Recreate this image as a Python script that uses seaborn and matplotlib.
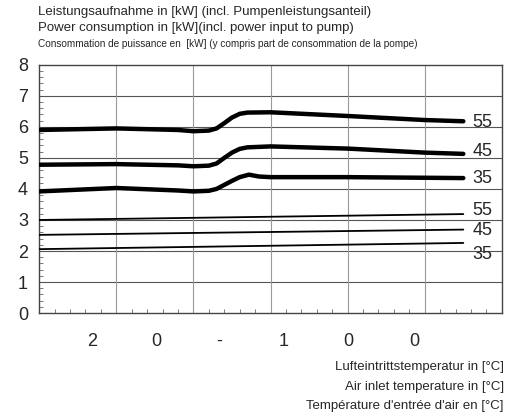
import matplotlib
matplotlib.use("Agg")
import matplotlib.pyplot as plt
import seaborn as sns
import pandas as pd
import numpy as np

sns.set_style("white")
plt.rcParams['font.family'] = ['Liberation Sans', 'DejaVu Sans']

x_thick = [0, 1, 1.8, 2.0, 2.2, 2.3, 2.4, 2.5, 2.6, 2.7, 3, 4, 5, 5.5]
y55_thick = [5.90, 5.95, 5.90, 5.86, 5.88, 5.95, 6.12, 6.30, 6.42, 6.46, 6.47, 6.35, 6.22, 6.18]
y45_thick = [4.78, 4.80, 4.76, 4.73, 4.75, 4.82, 5.00, 5.17, 5.29, 5.34, 5.37, 5.30, 5.17, 5.13]
x35 = [0, 1, 1.8, 2.0, 2.2, 2.3, 2.4, 2.5, 2.6, 2.72, 2.85, 3, 4, 5, 5.5]
y35_thick = [3.92, 4.03, 3.95, 3.92, 3.94, 4.00, 4.13, 4.26, 4.38, 4.46, 4.40, 4.38, 4.38, 4.36, 4.35]
x_thin = [0, 5.5]
y55_thin = [3.00, 3.19]
y45_thin = [2.52, 2.69]
y35_thin = [2.06, 2.26]
curve_labels = ["55", "45", "35", "55", "45", "35"]
label_y = [6.15, 5.2, 4.35, 3.3, 2.65, 1.9]
ytick_vals = list(range(9))
xtick_pos = [-0.12, 0.68, 1.52, 2.34, 3.17, 4.01, 4.86]
xtick_labels = ["-", "2", "0", "-", "1", "0", "0"]

fig = plt.figure(figsize=(5.09, 4.18), dpi=100)
ax = fig.add_axes([0.077, 0.251, 0.909, 0.594])

for xs, ys, lw in [(x_thick, y55_thick, 3.2), (x_thick, y45_thick, 3.2), (x35, y35_thick, 3.2),
                   (x_thin, y55_thin, 1.3), (x_thin, y45_thin, 1.3), (x_thin, y35_thin, 1.3)]:
    df = pd.DataFrame({"x": xs, "y": ys})
    sns.lineplot(data=df, x="x", y="y", ax=ax, color="black", lw=lw, estimator=None, zorder=3)

for lab, yv in zip(curve_labels, label_y):
    ax.text(5.62, yv, lab, fontsize=13, va="center", ha="left")

ax.set_yticks(ytick_vals)
ax.set_yticklabels([str(v) for v in ytick_vals], fontsize=13)
for v in range(1, 8):
    ax.axhline(v, color="#555555", lw=0.8, zorder=1)
for v in range(1, 6):
    ax.axvline(v, color="#999999", lw=0.8, zorder=1)
ax.set_xticks(xtick_pos)
ax.set_xticklabels(xtick_labels, fontsize=13)
ax.set_xticks(np.arange(0, 6.01, 0.2), minor=True)
ax.set_yticks(np.arange(0, 8.01, 0.2), minor=True)
ax.set_xlim(0, 6)
ax.set_ylim(0, 8)
ax.tick_params(axis="x", which="major", length=0, pad=14)
ax.tick_params(axis="y", which="major", length=0, pad=8)
ax.tick_params(which="minor", direction="in", length=3, color="#666666")
ax.tick_params(axis="x", which="minor", bottom=True)
ax.tick_params(axis="y", which="minor", left=True)
ax.set_xlabel("")
ax.set_ylabel("")
for s in ax.spines.values():
    s.set_color("#444444")
    s.set_linewidth(1.0)

fig.text(0.075, 0.965, "Leistungsaufnahme in [kW] (incl. Pumpenleistungsanteil)", fontsize=9.5)
fig.text(0.075, 0.925, "Power consumption in [kW](incl. power input to pump)", fontsize=9.5)
fig.text(0.075, 0.888, "Consommation de puissance en  [kW] (y compris part de consommation de la pompe)", fontsize=7.2)
fig.text(0.99, 0.115, "Lufteintrittstemperatur in [°C]", fontsize=9.5, ha="right")
fig.text(0.99, 0.068, "Air inlet temperature in [°C]", fontsize=9.5, ha="right")
fig.text(0.99, 0.022, "Température d'entrée d'air en [°C]", fontsize=9.5, ha="right")

fig.savefig("out.png", dpi=100)
